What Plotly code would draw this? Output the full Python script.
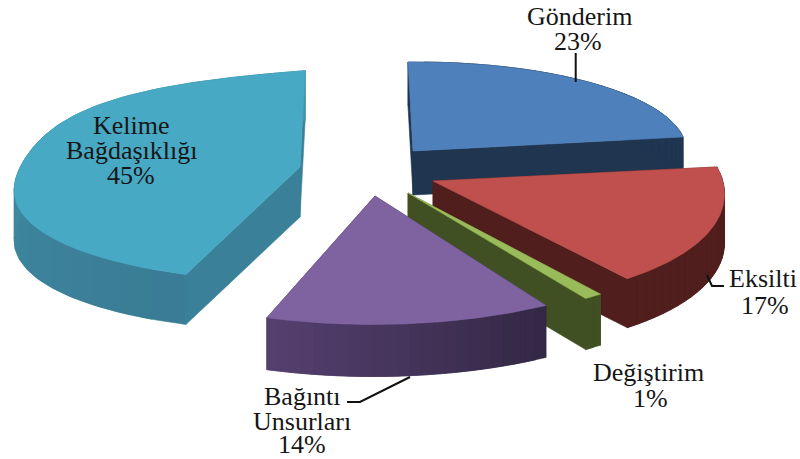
import numpy as np
import plotly.graph_objects as go

# ---- data -------------------------------------------------------------
categories = ["Gönderim", "Eksilti", "Değiştirim", "Bağıntı Unsurları", "Kelime Bağdaşıklığı"]
values = [23, 17, 1, 14, 45]

# ---- projection of each exploded slice (pixel space) -------------------
centres = [(413, 151), (433, 181), (408, 193), (375, 196), (300, 167)]
u_axis = [(272.8, -2.9), (290, 1), (300, 0), (329.4, 1.8), (340, -18)]
v_axis = [(-5, -89), (-29.5, -120), (-20, -125), (6.6, -128.5), (5.5, -103.4)]
persp = [(0, 0), (0, 0), (0, 0), (0, 0), (-0.2, 0.1)]
bulge = [0, 0, 0, 0, 0.12]
depths = [44, 49, 51, 52, 50]

# ---- styles ------------------------------------------------------------
top_colors = ["#4E80BC", "#BF504D", "#9ABB59", "#7F63A1", "#47A9C3"]
wall_start = [(31, 53, 80), (80, 30, 28), (64, 80, 34), (50, 39, 68), (58, 124, 148)]
wall_end = [(31, 53, 80), (80, 30, 28), (64, 80, 34), (86, 64, 112), (66, 148, 173)]
radial_colors = ["#1F3550", "#501E1C", "#405022", "#33284A", "#3A8099"]
text_color = "#161616"

# label lines: text, centre x, centre y
label_lines = [
    ("Gönderim", 579, 16), ("23%", 578, 41),
    ("Eksilti", 763, 278), ("17%", 765, 305),
    ("Değiştirim", 648, 372), ("1%", 650, 398),
    ("Bağıntı", 302, 396), ("Unsurları", 302, 421), ("14%", 302, 444),
    ("Kelime", 131, 125), ("Bağdaşıklığı", 131, 150), ("45%", 131, 175),
]
leaders = [
    ([575.7, 575.7], [53, 82]),
    ([707, 712, 724], [275, 286, 286]),
    ([410, 360, 347], [377, 402, 402]),
]


def project(i, theta):
    s, c = np.sin(theta), np.cos(theta)
    p, q = persp[i]
    w = 1 + p * s + q * c
    grow = 1 + bulge[i] * np.exp(-(((theta - np.radians(322)) / np.radians(30)) ** 2))
    cx, cy = centres[i]
    x = cx + grow * (u_axis[i][0] * s + v_axis[i][0] * c) / w
    y = cy + grow * (u_axis[i][1] * s + v_axis[i][1] * c) / w
    return x, y


def poly(x, y, color):
    return go.Scatter(
        x=list(x), y=list(y), mode="lines", fill="toself", fillcolor=color,
        line=dict(color=color, width=0.6), hoverinfo="skip", showlegend=False,
    )


fig = go.Figure()
edges = np.cumsum([0] + values) / sum(values) * 2 * np.pi

for i in range(len(values)):
    a, b = edges[i], edges[i + 1]
    cx, cy = centres[i]
    d = depths[i]
    # radial walls
    for ang in (a, b):
        px, py = project(i, ang)
        fig.add_trace(poly([cx, px, px, cx, cx], [cy, py, py + d, cy + d, cy], radial_colors[i]))
    # outer wall as shaded bands, each running under the next to avoid seams
    n = 24 if values[i] > 2 else 2
    th = np.linspace(a, b, n + 1)
    for k in range(n):
        t = np.linspace(th[k], th[min(k + 2, n)], 6)
        x, y = project(i, t)
        mix = (k + 0.5) / n
        col = [round(wall_start[i][j] + (wall_end[i][j] - wall_start[i][j]) * mix) for j in range(3)]
        fig.add_trace(poly(np.r_[x, x[::-1], x[0]], np.r_[y, y[::-1] + d, y[0]], f"rgb({col[0]},{col[1]},{col[2]})"))
    # top face
    t = np.linspace(a, b, 120)
    x, y = project(i, t)
    fig.add_trace(poly(np.r_[cx, x, cx], np.r_[cy, y, cy], top_colors[i]))

for lx, ly in leaders:
    fig.add_trace(go.Scatter(x=lx, y=ly, mode="lines", line=dict(color="#111111", width=2),
                             hoverinfo="skip", showlegend=False))

for text, x, y in label_lines:
    fig.add_annotation(x=x, y=y, text=text, showarrow=False, xanchor="center", yanchor="middle",
                       font=dict(family="Liberation Serif", size=26, color=text_color))

fig.update_layout(
    width=800, height=459, margin=dict(l=0, r=0, t=0, b=0),
    paper_bgcolor="white", plot_bgcolor="white",
    xaxis=dict(range=[0, 800], visible=False, fixedrange=True),
    yaxis=dict(range=[459, 0], visible=False, fixedrange=True),
)
fig.write_html("out.html", config={"displayModeBar": False},
               post_script="document.body.style.margin='0';document.body.style.overflow='hidden';")
